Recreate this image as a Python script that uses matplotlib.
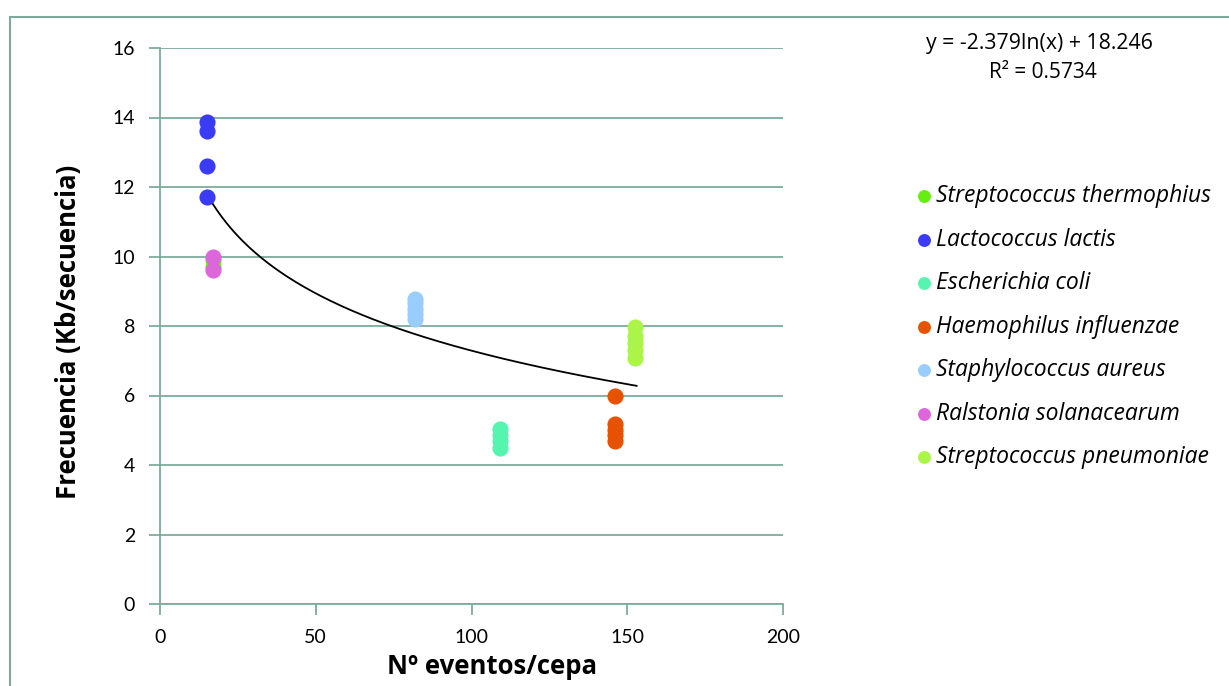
import numpy as np
import matplotlib.pyplot as plt
from matplotlib.patches import Rectangle

# Data (x = eventos/cepa, y = Kb/secuencia)
species = ["Streptococcus thermophius", "Lactococcus lactis", "Escherichia coli",
           "Haemophilus influenzae", "Staphylococcus aureus",
           "Ralstonia solanacearum", "Streptococcus pneumoniae"]
colors = ["#66ee11", "#3b3bf5", "#55f5b0", "#e65200", "#99ccff", "#dd66dd", "#aaf548"]

thermo_x = [17, 17]
thermo_y = [9.7, 9.9]
lactis_x = [15, 15, 15, 15]
lactis_y = [11.7, 12.6, 13.62, 13.88]
coli_x = [109, 109, 109, 109]
coli_y = [4.48, 4.68, 4.86, 5.05]
haemo_x = [146, 146, 146, 146, 146]
haemo_y = [4.68, 4.85, 5.0, 5.18, 6.0]
aureus_x = [82, 82, 82, 82, 82]
aureus_y = [8.2, 8.35, 8.5, 8.65, 8.78]
ralst_x = [17, 17]
ralst_y = [9.6, 9.98]
pneumo_x = [152.5, 152.5, 152.5, 152.5, 152.5]
pneumo_y = [7.08, 7.3, 7.5, 7.72, 7.96]

xs = [thermo_x, lactis_x, coli_x, haemo_x, aureus_x, ralst_x, pneumo_x]
ys = [thermo_y, lactis_y, coli_y, haemo_y, aureus_y, ralst_y, pneumo_y]

# Logarithmic trend line y = a ln(x) + b
coef_a, coef_b = -2.379, 18.246
r2 = 0.5734
trend_x0, trend_x1 = 17, 153

plt.rcParams['font.family'] = ['Lato', 'DejaVu Sans']
grid_col = "#7eaa9e"
osans = ['Open Sans', 'DejaVu Sans']

fig = plt.figure(figsize=(12.29, 6.86), dpi=100)
ax = fig.add_axes([160/1229, 1-604/686, (783-160)/1229, (604-48)/686])

# outer chart frame (cut off at right and bottom like the screenshot)
fig.patches.append(Rectangle((10/1229, -0.1), 1.2, 0.1 + 1 - 17/686, transform=fig.transFigure,
                             fill=False, edgecolor=grid_col, linewidth=1.5))

for x, y, c, name in zip(xs, ys, colors, species):
    ax.scatter(x, y, s=135, color=c, label=name, zorder=3, linewidths=0)

tx = np.linspace(trend_x0, trend_x1, 200)
ax.plot(tx, coef_a*np.log(tx) + coef_b, color="black", linewidth=1.3, zorder=4)

ax.set_xlim(0, 200)
ax.set_ylim(0, 16)
ax.set_xticks(np.arange(0, 201, 50))
ax.set_yticks(np.arange(0, 17, 2))
ax.grid(axis='y', color=grid_col, linewidth=1.3, zorder=0)
for side in ['top', 'right']:
    ax.spines[side].set_visible(False)
for side in ['left', 'bottom']:
    ax.spines[side].set_color(grid_col)
    ax.spines[side].set_linewidth(1.3)
ax.tick_params(axis='both', colors=grid_col, labelcolor="black", labelsize=14,
               length=8, width=1.3, direction='out')
ax.tick_params(axis='y', pad=10)
ax.tick_params(axis='x', pad=10)

ax.set_xlabel("Nº eventos/cepa", fontsize=18.5, fontweight='bold', family=osans)
ax.set_ylabel("Frecuencia (Kb/secuencia)", fontsize=18.5, fontweight='bold', family=osans)
ax.xaxis.set_label_coords(0.533, -0.088)
ax.yaxis.set_label_coords(-0.126, 0.49)

fig.text(1039/1229, 1-44/686, "y = %.3fln(x) + %.3f" % (coef_a, coef_b),
         ha='center', va='center', fontsize=15.3, family=osans)
fig.text(1043/1229, 1-72/686, "R² = %.4f" % r2, ha='center', va='center', fontsize=15,
         family=osans)

handles, labels = ax.get_legend_handles_labels()
leg = fig.legend(handles, labels, loc='upper left', bbox_to_anchor=(902/1229, 1-175/686),
                 frameon=False, handletextpad=0.0, labelspacing=0.85,
                 borderaxespad=0, markerscale=0.8, handlelength=1.1,
                 prop={'family': osans, 'size': 16.5, 'style': 'italic'})

fig.savefig("out.png", dpi=100)
